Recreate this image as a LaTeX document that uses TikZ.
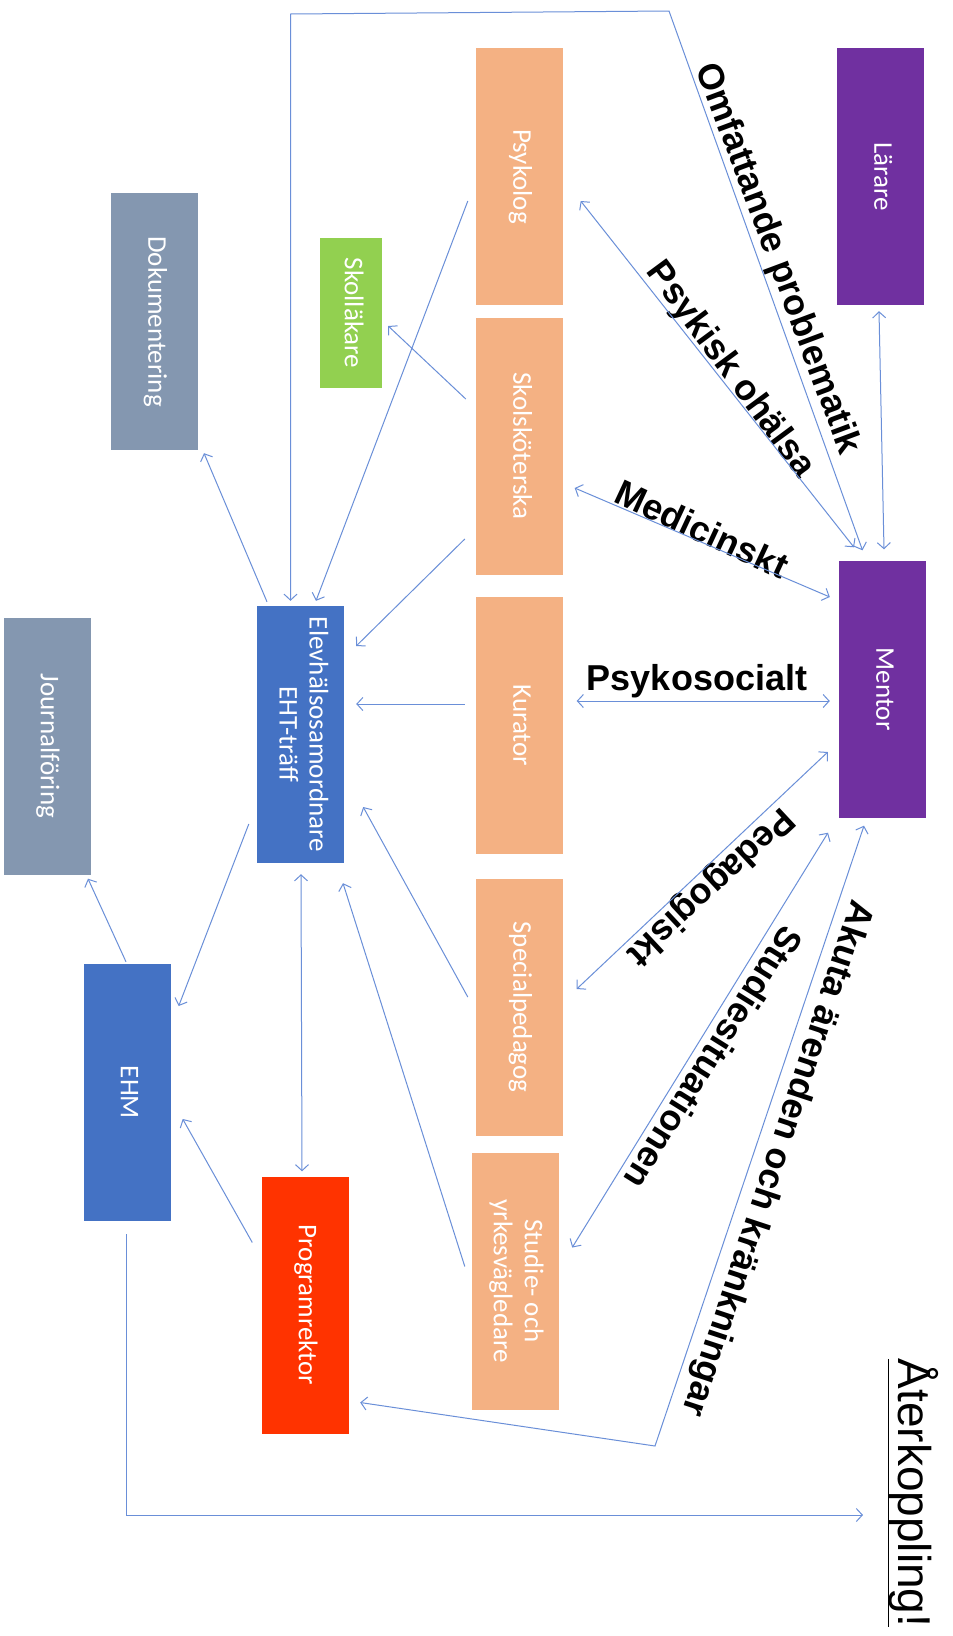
\documentclass[tikz,border=0pt]{standalone}
\usepackage{fontspec}
\setmainfont{Liberation Sans}
\newfontfamily\boxfont{Carlito}
\usepackage{graphicx}
\usetikzlibrary{arrows.meta,calc}
\definecolor{orangebox}{HTML}{F4B183}
\definecolor{purplebox}{HTML}{7030A0}
\definecolor{bluebox}{HTML}{4472C4}
\definecolor{graybox}{HTML}{8497B0}
\definecolor{greenbox}{HTML}{92D050}
\definecolor{redbox}{HTML}{FF3300}
\definecolor{connc}{HTML}{6A8FD8}
\newcommand{\rl}[1]{\rotatebox{-90}{\begin{tabular}{@{}c@{}}#1\end{tabular}}}
\begin{document}
\begin{tikzpicture}[x=1pt,y=-1pt,
  box/.style={rectangle, inner sep=0pt, minimum width=87pt, minimum height=257pt,
    text=white, font=\boxfont\fontsize{27}{31}\selectfont},
  lab/.style={inner sep=0pt, font=\bfseries\fontsize{36}{40}\selectfont},
  conn/.style={draw=connc, line width=1pt},
  >={Straight Barb[length=6pt,width=13pt]}
]
\fill[white] (0,0) rectangle (953,1636);
\useasboundingbox (0,0) rectangle (953,1636);

% boxes
\node[box, fill=purplebox] (lar) at (880.5,176.5) {\rl{Lärare}};
\node[box, fill=purplebox] (men) at (882.5,689) {\rl{Mentor}};
\node[box, fill=orangebox] (psy) at (519.5,176.5) {\rl{Psykolog}};
\node[box, fill=orangebox] (sks) at (519.5,446) {\rl{Skolsköterska}};
\node[box, fill=orangebox] (kur) at (519.5,725.5) {\rl{Kurator}};
\node[box, fill=orangebox] (spe) at (519.5,1007) {\rl{Specialpedagog}};
\node[box, fill=orangebox] (syv) at (515.5,1281) {\rl{Studie- och\\yrkesvägledare}};
\node[box, fill=greenbox, minimum width=62pt, minimum height=150pt] (skl) at (351,313) {\rl{Skolläkare}};
\node[box, fill=graybox] (dok) at (154.5,321.5) {\rl{Dokumentering}};
\node[box, fill=bluebox, font=\boxfont\fontsize{27}{30}\selectfont] (ehs) at (300.5,734.5) {\rl{Elevhälsosamordnare\\EHT-träff}};
\node[box, fill=graybox] (jou) at (47,746) {\rl{Journalföring}};
\node[box, fill=bluebox] (ehm) at (127,1092.5) {\rl{EHM}};
\node[box, fill=redbox] (pro) at (305,1305) {\rl{Programrektor}};
\node[inner sep=0pt, font=\fontsize{46}{50}\selectfont] (ater) at (913,1493) {\rotatebox{-90}{\underline{Återkoppling!}}};

% labels
\node[lab, rotate=-69.5] (l1) at (777,259) {Omfattande problematik};
\node[lab, rotate=-53.5] (l2) at (730,370) {Psykisk ohälsa};
\node[lab, rotate=-25] (l3) at (702,529) {Medicinskt};
\node[lab] (l4) at (697,681) {Psykosocialt};
\node[lab, rotate=-137] (l5) at (710,886) {Pedagogiskt};
\node[lab, rotate=-122] (l6) at (714,1058) {Studiesituationen};
\node[lab, rotate=-108.3] (l7) at (776,1158) {Akuta ärenden och kränkningar};

% waypoints
\coordinate (topR) at (669,11);
\coordinate (topL) at (290.5,14);
\coordinate (akc) at (655,1446);

% connectors to Mentor
\draw[conn,<->] ([shift={(-20,-10)}]men.north) -- (topR) -- (topL) -- ([shift={(-10,-5)}]ehs.north);
\draw[conn,<->] ([shift={(17.5,24.5)}]psy.east) -- ([shift={(-28.5,-13)}]men.north);
\draw[conn,<->] ([shift={(11.5,42)}]sks.east) -- ([shift={(-9,-92)}]men.west);
\draw[conn,<->] ([shift={(13.5,-24.5)}]kur.east) -- ([shift={(-9,12)}]men.west);
\draw[conn,<->] ([shift={(13.5,-18)}]spe.east) -- ([shift={(-11,63)}]men.west);
\draw[conn,<->] ([shift={(13,-33.5)}]syv.east) -- ([shift={(-54.5,15)}]men.south);
\draw[conn,<->] ([shift={(-18.5,8)}]men.south) -- (akc) -- ([shift={(11.5,97.5)}]pro.east);
\draw[conn,<->] ([shift={(-1.5,6)}]lar.south) -- ([shift={(1.5,-11)}]men.north);

% connectors to Elevhälsosamordnare
\draw[conn,->] ([shift={(-8,24.5)}]psy.west) -- ([shift={(15.5,-5)}]ehs.north);
\draw[conn,->] ([shift={(-10,-47)}]sks.west) -- ([shift={(6,13)}]skl.east);
\draw[conn,->] ([shift={(-11,93)}]sks.west) -- ([shift={(12,-88.5)}]ehs.east);
\draw[conn,->] ([shift={(-11,-21.5)}]kur.west) -- ([shift={(12,-30.5)}]ehs.east);
\draw[conn,->] ([shift={(-8,-10)}]spe.west) -- ([shift={(19,72.5)}]ehs.east);
\draw[conn,->] ([shift={(-7,-14.5)}]syv.west) -- ([shift={(42.5,20)}]ehs.south);
\draw[conn,<->] ([shift={(0.5,11)}]ehs.south) -- ([shift={(-3,-5)}]pro.north);
\draw[conn,->] ([shift={(-8,89.5)}]ehs.west) -- ([shift={(8,-86.5)}]ehm.east);
\draw[conn,->] ([shift={(-33.5,-4)}]ehs.north) -- ([shift={(49.5,3)}]dok.south);
\draw[conn,->] ([shift={(-1,-2)}]ehm.north) -- ([shift={(41,4)}]jou.south);
\draw[conn,->] ([shift={(-9,-62.5)}]pro.west) -- ([shift={(12,26.5)}]ehm.east);
\draw[conn,->] ([shift={(-1,13)}]ehm.south) |- ([shift={(-50,22)}]ater.center);
\end{tikzpicture}
\end{document}
